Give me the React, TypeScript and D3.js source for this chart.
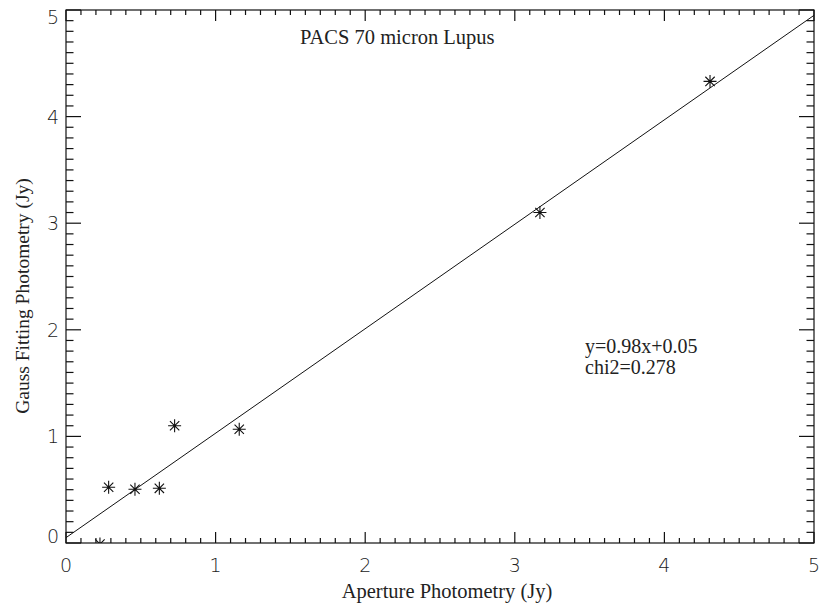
import React, { useEffect, useRef } from 'react';
import * as d3 from 'd3';

// aperture vs gauss fitting photometry (Jy)
const apertureJy = [0.227, 0.285, 0.461, 0.624, 0.726, 1.158, 3.168, 4.305];
const gaussJy = [-0.01, 0.523, 0.504, 0.513, 1.1, 1.067, 3.1, 4.33];
const fitSlope = 0.98;
const fitIntercept = 0.05;
const majorTicks = [0, 1, 2, 3, 4, 5];
const titleText = 'PACS 70 micron Lupus';
const fitLabels = ['y=0.98x+0.05', 'chi2=0.278'];

const W = 821;
const H = 606;
const margin = { left: 66, right: 7, top: 10, bottom: 63 };

const App: React.FC = () => {
  const ref = useRef<SVGSVGElement>(null);

  useEffect(() => {
    if (!ref.current) return;
    const svg = d3.select(ref.current);
    svg.selectAll('*').remove();

    const x0 = margin.left;
    const x1 = W - margin.right;
    const y0 = H - margin.bottom;
    const y1 = margin.top;

    const x = d3.scaleLinear().domain([0, 5]).range([x0, x1]);
    const y = d3.scaleLinear().domain([0, 5]).range([y0, y1]);

    svg.append('rect').attr('width', W).attr('height', H).attr('fill', '#fff');

    svg
      .append('clipPath')
      .attr('id', 'plotclip')
      .append('rect')
      .attr('x', x0)
      .attr('y', y1)
      .attr('width', x1 - x0)
      .attr('height', y0 - y1);

    const ink = '#111';
    const minor = d3.range(0, 5.0001, 0.1);

    // frame
    svg
      .append('rect')
      .attr('x', x0)
      .attr('y', y1)
      .attr('width', x1 - x0)
      .attr('height', y0 - y1)
      .attr('fill', 'none')
      .attr('stroke', ink)
      .attr('stroke-width', 1.2);

    const ticks = svg.append('g').attr('stroke', ink).attr('stroke-width', 1.2);
    minor.forEach((v) => {
      const isMajor = Math.abs(v - Math.round(v)) < 1e-6;
      const lx = isMajor ? 11 : 5;
      const ly = isMajor ? 15 : 7.5;
      const px = x(v);
      const py = y(v);
      ticks.append('line').attr('x1', px).attr('x2', px).attr('y1', y0).attr('y2', y0 - lx);
      ticks.append('line').attr('x1', px).attr('x2', px).attr('y1', y1).attr('y2', y1 + lx);
      ticks.append('line').attr('y1', py).attr('y2', py).attr('x1', x0).attr('x2', x0 + ly);
      ticks.append('line').attr('y1', py).attr('y2', py).attr('x1', x1).attr('x2', x1 - ly);
    });

    const tickFont = '"DejaVu Sans", sans-serif';
    svg
      .append('g')
      .selectAll('text')
      .data(majorTicks)
      .join('text')
      .attr('x', (d) => x(d))
      .attr('y', y0 + 29)
      .attr('text-anchor', 'middle')
      .attr('font-family', tickFont)
      .attr('font-weight', 200)
      .attr('font-size', 19)
      .attr('fill', '#222')
      .text((d) => d);

    svg
      .append('g')
      .selectAll('text')
      .data(majorTicks)
      .join('text')
      .attr('x', x0 - 7)
      .attr('y', (d) => Math.max(y1 + 14, Math.min(y0, y(d) + 7)))
      .attr('text-anchor', 'end')
      .attr('font-family', tickFont)
      .attr('font-weight', 200)
      .attr('font-size', 19)
      .attr('fill', '#222')
      .text((d) => d);

    const serif = '"Liberation Serif", "Times New Roman", serif';

    // fit line
    const line = d3
      .line<number>()
      .x((d) => x(d))
      .y((d) => y(fitSlope * d + fitIntercept));
    svg
      .append('path')
      .datum([0, 5])
      .attr('d', line)
      .attr('fill', 'none')
      .attr('stroke', ink)
      .attr('stroke-width', 1)
      .attr('clip-path', 'url(#plotclip)');

    // asterisk markers
    const r = 6.5;
    const d7 = r * 0.72;
    const star = `M0,${-r}V${r}M${-r},0H${r}M${-d7},${-d7}L${d7},${d7}M${-d7},${d7}L${d7},${-d7}`;
    svg
      .append('g')
      .attr('clip-path', 'url(#plotclip)')
      .selectAll('path')
      .data(apertureJy.map((a, i) => [a, gaussJy[i]]))
      .join('path')
      .attr('transform', (d) => `translate(${x(d[0])},${y(d[1])})`)
      .attr('d', star)
      .attr('fill', 'none')
      .attr('stroke', ink)
      .attr('stroke-width', 1.1);

    svg
      .append('text')
      .attr('x', 300)
      .attr('y', 44)
      .attr('font-family', serif)
      .attr('font-size', 20.5)
      .attr('fill', '#222')
      .text(titleText);

    svg
      .append('g')
      .selectAll('text')
      .data(fitLabels)
      .join('text')
      .attr('x', 585)
      .attr('y', (d, i) => 353 + i * 21)
      .attr('font-family', serif)
      .attr('font-size', 20)
      .attr('fill', '#222')
      .text((d) => d);

    svg
      .append('text')
      .attr('x', 447)
      .attr('y', 598)
      .attr('text-anchor', 'middle')
      .attr('font-family', serif)
      .attr('font-size', 20.5)
      .attr('fill', '#222')
      .text('Aperture Photometry (Jy)');

    svg
      .append('text')
      .attr('transform', 'translate(29,296) rotate(-90)')
      .attr('text-anchor', 'middle')
      .attr('font-family', serif)
      .attr('font-size', 19.5)
      .attr('fill', '#222')
      .text('Gauss Fitting Photometry (Jy)');
  }, []);

  return (
    <svg
      ref={ref}
      width={W}
      height={H}
      style={{ position: 'absolute', left: 0, top: 0, display: 'block' }}
    />
  );
};

export default App;
